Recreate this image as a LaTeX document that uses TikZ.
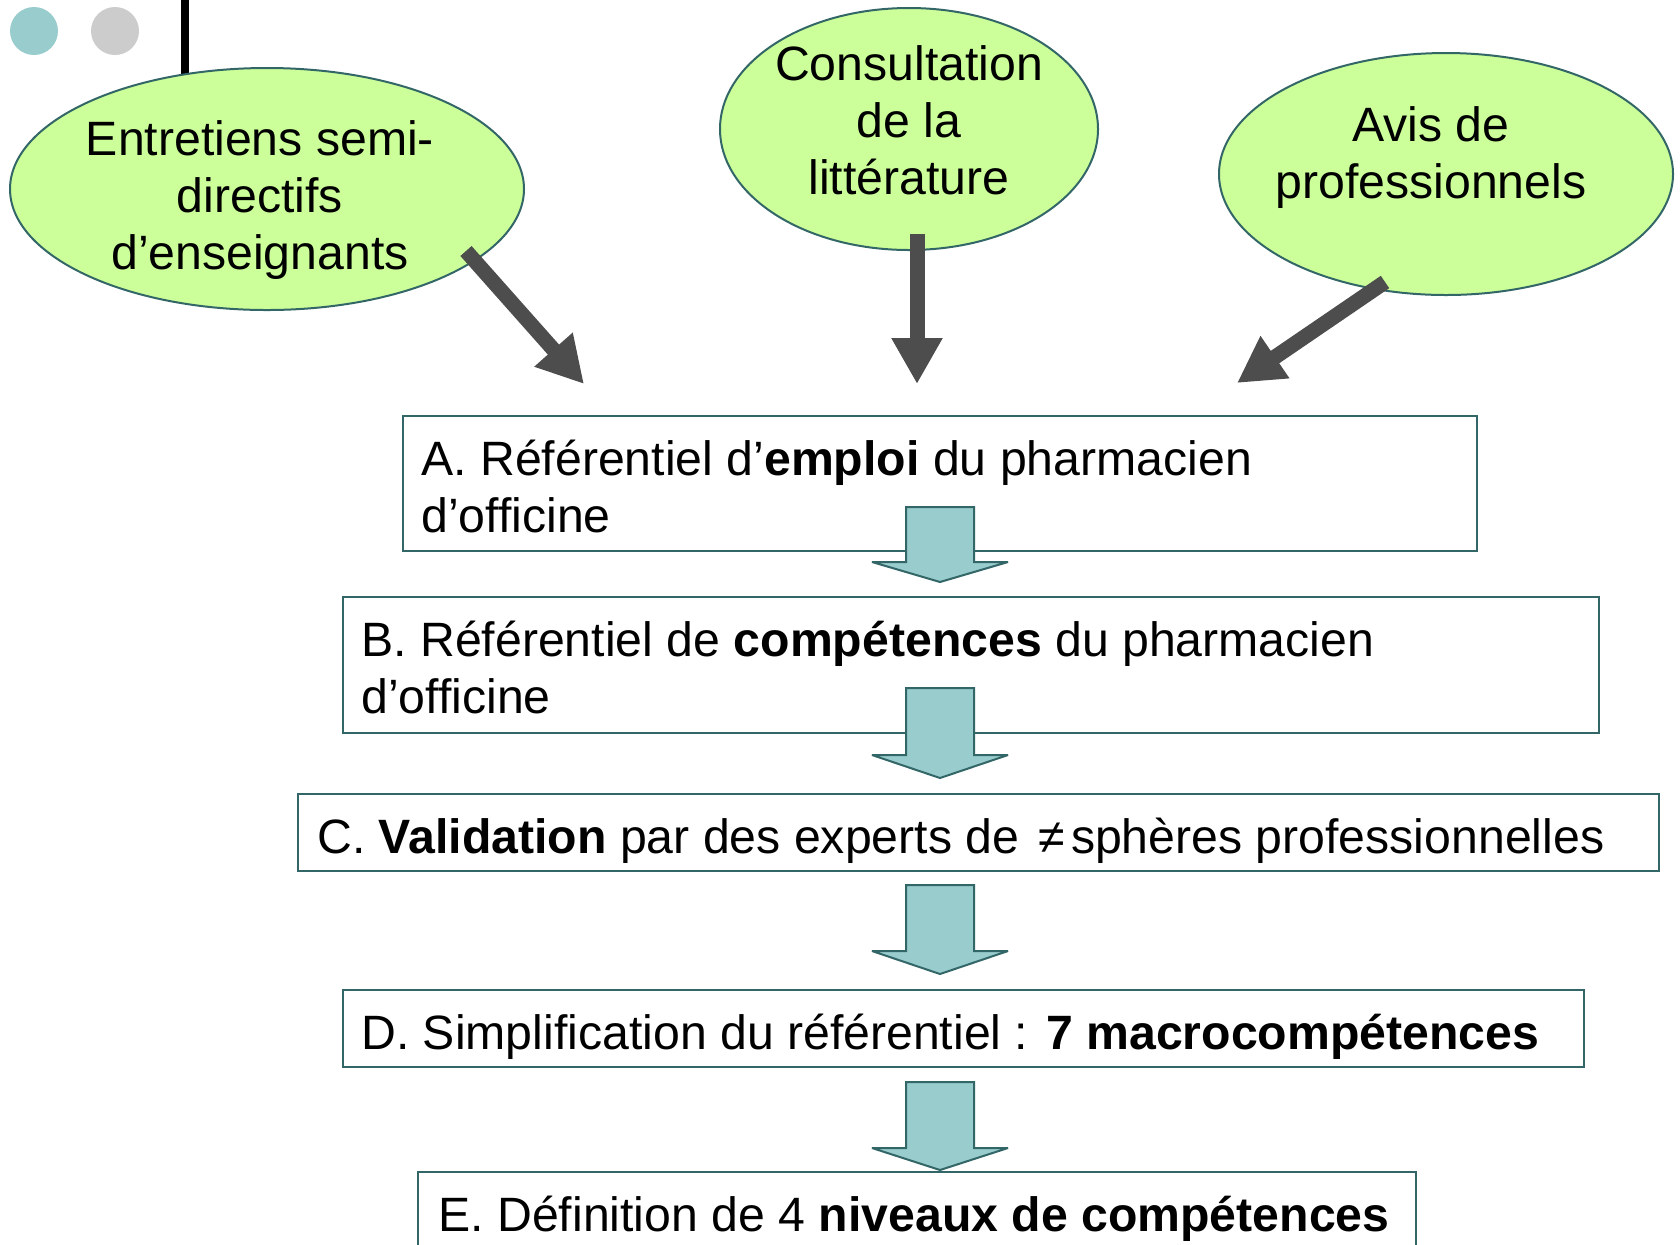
\documentclass[tikz,border=0pt]{standalone}
\usepackage{fontspec}
\setmainfont{Liberation Sans}
\usetikzlibrary{arrows.meta,shapes.geometric}
\definecolor{ellfill}{HTML}{CCFF99}
\definecolor{tealborder}{HTML}{336666}
\definecolor{tealfill}{HTML}{99CCCC}
\definecolor{darkarrow}{HTML}{4D4D4D}
\definecolor{dotgray}{HTML}{CCCCCC}
\begin{document}
\begin{tikzpicture}[x=0.5pt,y=-0.5pt,
 bubble/.style={ellipse, draw=tealborder, fill=ellfill, line width=1pt, inner sep=0pt},
 lbl/.style={anchor=base, inner sep=0pt, font=\fontsize{24.1}{28.5}\selectfont},
 boxtxt/.style={anchor=base west, inner sep=0pt, font=\fontsize{24.1}{28.5}\selectfont},
 stage/.style={rectangle, draw=tealborder, line width=1pt, fill=white, inner sep=0pt},
 bigarrow/.style={draw=tealborder, fill=tealfill, line width=1pt, line join=miter, miter limit=2},
 feed/.style={draw=darkarrow, line width=7.5pt, -{Triangle[length=23pt,width=24pt]}}
]
\useasboundingbox (0,0) rectangle (1680,1244);
\clip (0,0) rectangle (1680,1244);

% decorative dots and bar
\fill[tealfill] (34,31) circle[radius=12pt];
\fill[dotgray] (115,31) circle[radius=12pt];
\fill[black] (181,0) rectangle (189,75);

% ellipses
\node[bubble, minimum width=257pt, minimum height=121pt] (e1) at (267,189) {};
\node[bubble, minimum width=189pt, minimum height=121pt] (e2) at (909,129) {};
\node[bubble, minimum width=227pt, minimum height=121pt] (e3) at (1446,174) {};

\node[lbl] (e1a) at (260,155) {Entretiens semi-};
\node[lbl] (e1b) at (260,212) {directifs};
\node[lbl] (e1c) at (260,269) {d’enseignants};

\node[lbl] (e2a) at (909,80) {Consultation};
\node[lbl] (e2b) at (909,137) {de la};
\node[lbl] (e2c) at (909,194) {littérature};

\node[lbl] (e3a) at (1431,141) {Avis de};
\node[lbl] (e3b) at (1431,198) {professionnels};

% feed arrows
\coordinate (s1) at (466,251);
\coordinate (t1) at (584,384);
\coordinate (s2) at (917,234);
\coordinate (t2) at (917,384);
\coordinate (s3) at (1385,282);
\coordinate (t3) at (1237,383);
\draw[feed] (s1) -- (t1);
\draw[feed] (s2) -- (t2);
\draw[feed] (s3) -- (t3);

% stage boxes
\node[stage, minimum width=537pt, minimum height=67.75pt] (A) at (940.25,483.25) {};
\node[stage, minimum width=627.75pt, minimum height=68pt] (B) at (970.75,665) {};
\node[stage, minimum width=680.25pt, minimum height=38.5pt] (C) at (978.25,832.5) {};
\node[stage, minimum width=620.25pt, minimum height=38.5pt] (D) at (963.25,1028.5) {};
\node[stage, minimum width=499pt, minimum height=44pt] (E) at (917,1216) {};

\node[boxtxt] (Aa) at (421,475) {A. Référentiel d’\textbf{emploi} du pharmacien};
\node[boxtxt] (Ab) at (421,532) {d’officine};
\node[boxtxt] (Ba) at (361,656) {B. Référentiel de \textbf{compétences} du pharmacien};
\node[boxtxt] (Bb) at (361,713) {d’officine};
\node[boxtxt] (Ca) at (317,853) {C. \textbf{Validation} par des experts de \kern3pt≠\kern3pt sphères professionnelles};
\node[boxtxt] (Da) at (361,1049) {D. Simplification du référentiel : \textbf{7 macrocompétences}};
\node[boxtxt] (Ea) at (438,1231) {E. Définition de 4 \textbf{niveaux de compétences}};

% block arrows between stages
\draw[bigarrow] (906,507) -- (974,507) -- (974,562) -- (1008,562) -- (940,582) -- (872,562) -- (906,562) -- cycle;
\draw[bigarrow] (906,688) -- (974,688) -- (974,755) -- (1008,755) -- (940,778) -- (872,755) -- (906,755) -- cycle;
\draw[bigarrow] (906,885) -- (974,885) -- (974,951) -- (1008,951) -- (940,974) -- (872,951) -- (906,951) -- cycle;
\draw[bigarrow] (906,1082) -- (974,1082) -- (974,1148) -- (1008,1148) -- (940,1170) -- (872,1148) -- (906,1148) -- cycle;
\end{tikzpicture}
\end{document}
